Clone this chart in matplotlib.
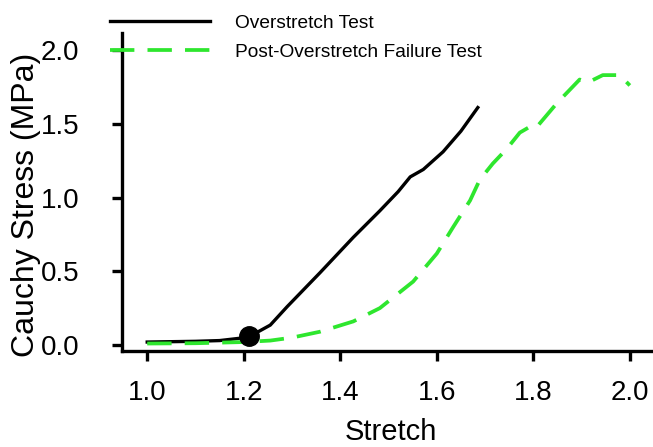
import matplotlib.pyplot as plt

plt.rcParams['font.family'] = ['Liberation Sans', 'DejaVu Sans']

# Overstretch test (black solid)
over_x = [1.00, 1.10, 1.15, 1.19, 1.21, 1.23, 1.255, 1.29, 1.358, 1.427,
          1.482, 1.52, 1.545, 1.572, 1.613, 1.65, 1.685]
over_y = [0.02, 0.025, 0.03, 0.045, 0.06, 0.09, 0.135, 0.26, 0.49, 0.73,
          0.91, 1.04, 1.14, 1.19, 1.31, 1.45, 1.61]

# Post-overstretch failure test (green dashed)
fail_x = [1.00, 1.10, 1.20, 1.255, 1.30, 1.358, 1.427, 1.482, 1.551, 1.60,
          1.634, 1.669, 1.689, 1.716, 1.745, 1.772, 1.793, 1.805, 1.849,
          1.896, 1.913, 1.944, 1.979, 2.00]
fail_y = [0.01, 0.012, 0.02, 0.03, 0.05, 0.09, 0.16, 0.25, 0.43, 0.62,
          0.80, 0.98, 1.12, 1.23, 1.33, 1.44, 1.48, 1.47, 1.64,
          1.80, 1.78, 1.83, 1.83, 1.76]

# failure point on overstretch curve
mark_x = [1.21]
mark_y = [0.06]

fig = plt.figure(figsize=(6.53, 4.47), dpi=100)
ax = fig.add_axes([0.187, 0.215, 0.813, 0.711])

l1, = ax.plot(over_x, over_y, color='black', lw=2.4, label='Overstretch Test')
l2, = ax.plot(fail_x, fail_y, color='#2ee62e', lw=2.7, dashes=(6.5, 3.5),
              label='Post-Overstretch Failure Test')
ax.plot(mark_x, mark_y, 'o', color='black', ms=14, zorder=5)

ax.set_xlim(0.948, 2.048)
ax.set_ylim(-0.04, 2.115)
ax.set_xticks([1.0, 1.2, 1.4, 1.6, 1.8, 2.0])
ax.set_yticks([0.0, 0.5, 1.0, 1.5, 2.0])
ax.xaxis.set_major_formatter(plt.FormatStrFormatter('%.1f'))
ax.yaxis.set_major_formatter(plt.FormatStrFormatter('%.1f'))
ax.tick_params(direction='out', length=7, width=2.4, labelsize=20)
ax.tick_params(axis='x', pad=14)
ax.tick_params(axis='y', pad=24)
for s in ['top', 'right']:
    ax.spines[s].set_visible(False)
for s in ['left', 'bottom']:
    ax.spines[s].set_linewidth(2.4)

ax.set_xlabel('Stretch', fontsize=21, va='baseline')
ax.xaxis.set_label_coords(0.506, -0.280)
ax.set_ylabel('Cauchy Stress (MPa)', fontsize=23)
ax.yaxis.set_label_coords(-0.153, 0.458)

fig.legend(handles=[l1, l2], loc='upper left', bbox_to_anchor=(110 / 653, 1 - 14.5 / 447),
           frameon=False, fontsize=13.8, handlelength=5.2, handletextpad=1.3,
           labelspacing=0.59, borderpad=0, borderaxespad=0)

fig.savefig('out.png', dpi=100)
